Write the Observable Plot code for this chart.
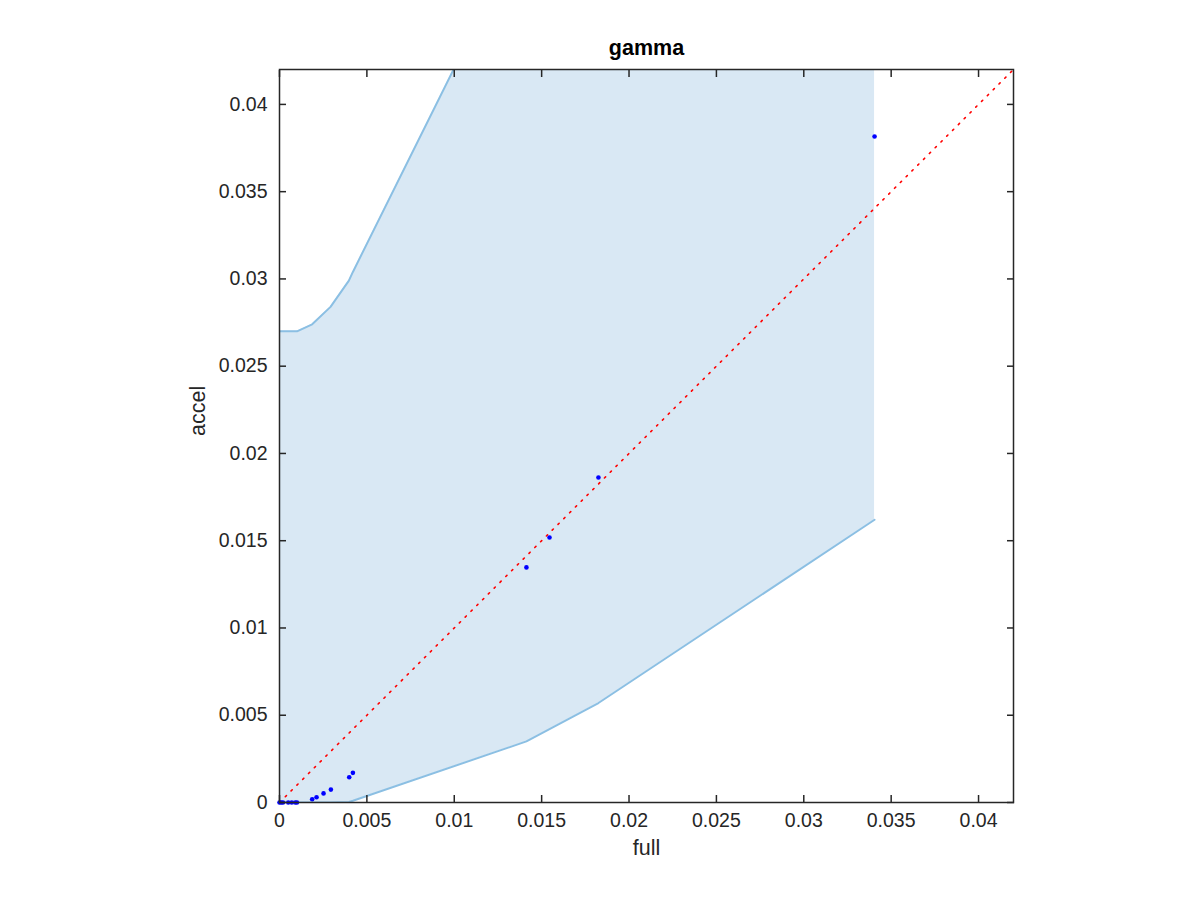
<!DOCTYPE html>
<html>
<head>
<meta charset="utf-8">
<script src="https://cdn.jsdelivr.net/npm/d3@7"></script>
<script src="https://cdn.jsdelivr.net/npm/@observablehq/plot@0.6"></script>
<style>
  html, body { margin: 0; padding: 0; background: white; }
</style>
</head>
<body>
<div id="chart"></div>
<script>
// ---- data ----
const titleText = "gamma";
const xLabel = "full";
const yLabel = "accel";
const tickValues = [0, 0.005, 0.01, 0.015, 0.02, 0.025, 0.03, 0.035, 0.04];
const axisDomain = [0, 0.042];

const pointFull  = [0, 0.0001, 0.0002, 0.0005, 0.0007, 0.0009, 0.001, 0.00187, 0.00212, 0.00252, 0.00294, 0.00399, 0.0042, 0.01413, 0.01545, 0.01825, 0.03405];
const pointAccel = [0, 0, 0, 0, 0, 0, 0, 0.00019, 0.0003, 0.00052, 0.00074, 0.00145, 0.0017, 0.01347, 0.01518, 0.01862, 0.03816];

const boundFull  = [0, 0.001, 0.00187, 0.00292, 0.00397, 0.0042, 0.01413, 0.01545, 0.01825, 0.03405];
const boundLower = [0, 0, 0, 0, 0.00003, 0.0001, 0.0035, 0.0042, 0.0057, 0.0162];
const boundUpper = [0.027, 0.027, 0.0274, 0.0284, 0.0299, 0.0304, 0.0504, 0.0531, 0.0587, 0.0906];

const diagFull  = [0, 0.042];
const diagAccel = [0, 0.042];

// ---- tables ----
const points = pointFull.map((x, i) => ({x, y: pointAccel[i]}));
const bounds = boundFull.map((x, i) => ({x, lo: boundLower[i], hi: boundUpper[i]}));
const diag = diagFull.map((x, i) => ({x, y: diagAccel[i]}));

const fmt = d => d === 0 ? "0" : String(+d.toFixed(3));
const axisColor = "#262626";
const tickFont = 19.5;
const labelFont = 21.5;

const chart = Plot.plot({
  width: 1200,
  height: 900,
  marginLeft: 279,
  marginRight: 187,
  marginTop: 69,
  marginBottom: 98,
  style: {fontFamily: "'Liberation Sans', Helvetica, Arial, sans-serif", fontSize: tickFont + "px", color: axisColor, background: "white"},
  x: {domain: axisDomain},
  y: {domain: axisDomain},
  marks: [
    Plot.areaY(bounds, {x: "x", y1: "lo", y2: "hi", fill: "#d9e8f4", clip: true}),
    Plot.line(bounds, {x: "x", y: "hi", stroke: "#8bbfe3", strokeWidth: 2, clip: true}),
    Plot.line(bounds, {x: "x", y: "lo", stroke: "#8bbfe3", strokeWidth: 2, clip: true}),
    Plot.line(diag, {x: "x", y: "y", stroke: "#ff0000", strokeWidth: 1.6, strokeDasharray: "1.6,6.6", clip: true}),
    Plot.dot(points, {x: "x", y: "y", r: 2.3, fill: "#0000ff", stroke: null}),
    Plot.frame({stroke: axisColor, strokeWidth: 1.5}),
    Plot.axisX({anchor: "bottom", ticks: tickValues, tickSize: -7, tickPadding: 18, tickFormat: fmt, label: null, color: axisColor, strokeWidth: 1.5, fontSize: tickFont}),
    Plot.axisX({anchor: "top", ticks: tickValues, tickSize: -7, tickFormat: () => "", label: null, color: axisColor, strokeWidth: 1.5}),
    Plot.axisY({anchor: "left", ticks: tickValues, tickSize: -7, tickPadding: 19, tickFormat: fmt, label: null, color: axisColor, strokeWidth: 1.5, fontSize: tickFont}),
    Plot.axisY({anchor: "right", ticks: tickValues, tickSize: -7, tickFormat: () => "", label: null, color: axisColor, strokeWidth: 1.5}),
    Plot.text([xLabel], {text: d => d, frameAnchor: "bottom", dy: 45.5, lineAnchor: "middle", fontSize: labelFont, fill: axisColor}),
    Plot.text([yLabel], {text: d => d, frameAnchor: "left", dx: -81, rotate: -90, lineAnchor: "middle", fontSize: labelFont, fill: axisColor}),
    Plot.text([titleText], {text: d => d, frameAnchor: "top", dy: -21.5, lineAnchor: "middle", fontSize: labelFont, fontWeight: "bold", fill: "#000000"})
  ]
});
document.getElementById("chart").appendChild(chart);
</script>
</body>
</html>
